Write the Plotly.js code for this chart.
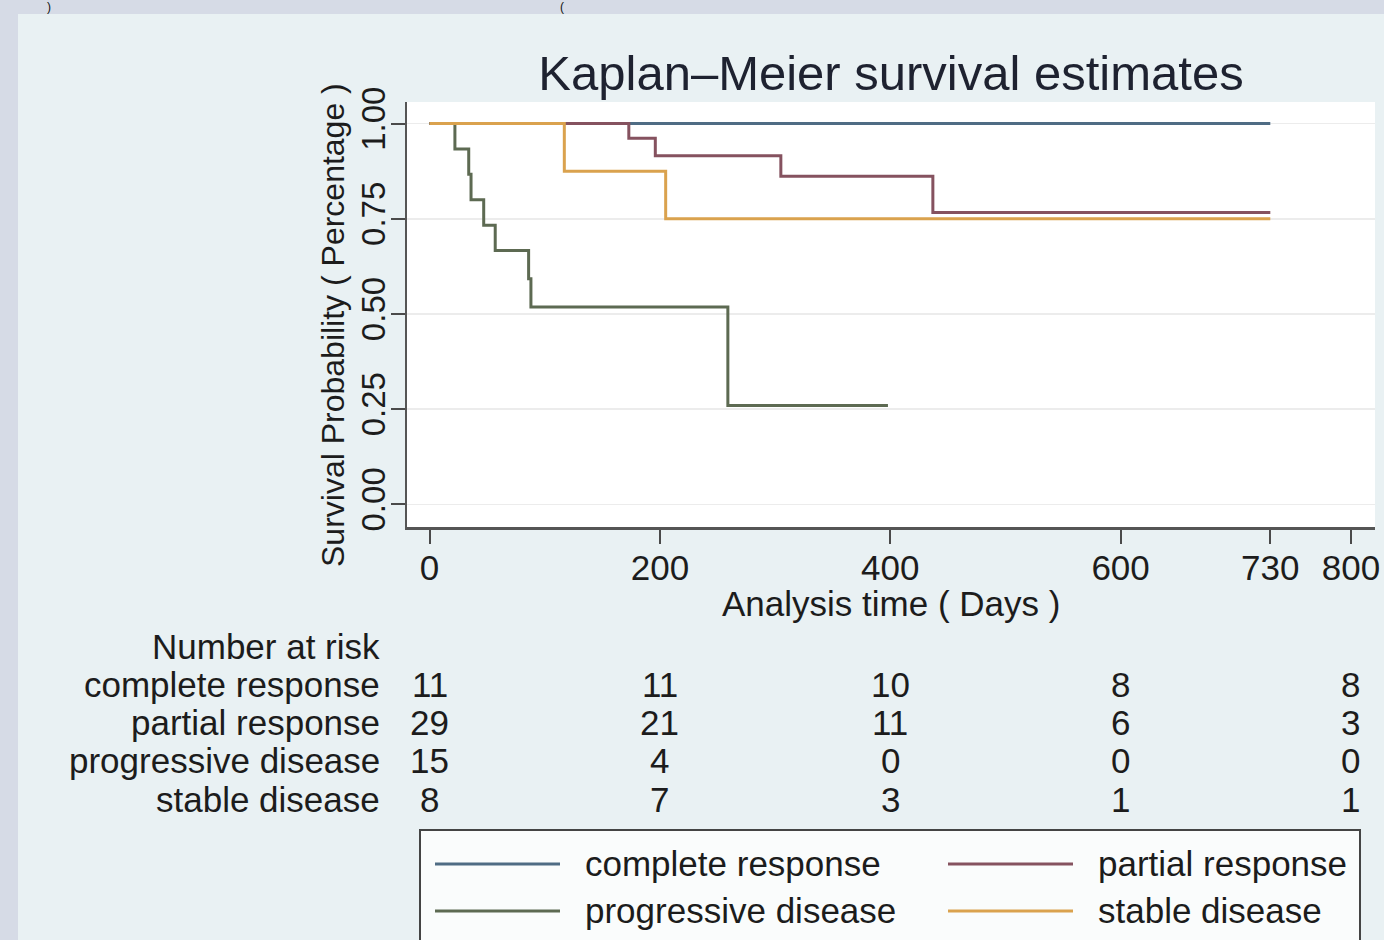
<!DOCTYPE html>
<html>
<head>
<meta charset="utf-8">
<script src="https://cdn.plot.ly/plotly-3.0.1.min.js"></script>
<style>
html,body{margin:0;padding:0;background:#e9f1f3;}
#chart{width:1384px;height:940px;}
</style>
</head>
<body>
<div id="chart"></div>
<script>
// ---------- data ----------
const groups = ["complete response", "partial response", "progressive disease", "stable disease"];

const completeDays = [0, 730];
const completeSurv = [1.0, 1.0];

const partialDays = [0, 173, 196, 305, 437, 730];
const partialSurv = [1.0, 0.9615, 0.9158, 0.8619, 0.7662, 0.7662];

const progressiveDays = [0, 22, 34, 36, 47, 57, 86, 88, 259, 398];
const progressiveSurv = [1.0, 0.9333, 0.8667, 0.8, 0.7333, 0.6667, 0.5926, 0.5185, 0.2593, 0.2593];

const stableDays = [0, 117, 205, 730];
const stableSurv = [1.0, 0.875, 0.75, 0.75];

const xTickVals = [0, 200, 400, 600, 730, 800];
const xTickText = ["0", "200", "400", "600", "730", "800"];
const yTickVals = [0, 0.25, 0.5, 0.75, 1.0];
const yTickText = ["0.00", "0.25", "0.50", "0.75", "1.00"];

const riskTimes = [0, 200, 400, 600, 800];
const riskComplete = [11, 11, 10, 8, 8];
const riskPartial = [29, 21, 11, 6, 3];
const riskProgressive = [15, 4, 0, 0, 0];
const riskStable = [8, 7, 3, 1, 1];

// ---------- styling ----------
const colors = ["#4f6c84", "#85525f", "#5d6a52", "#daa24e"];
const FONT = "Liberation Sans, Arial, Helvetica, sans-serif";
const TXT = "#1c1c1c";

const W = 1384, H = 940;
const L = 407, R = 1375, T = 102, B = 527;
function px2x(px) { return (px - L) / (R - L); }
function py2y(py) { return (B - py) / (B - T); }

const seriesDays = [completeDays, partialDays, progressiveDays, stableDays];
const seriesSurv = [completeSurv, partialSurv, progressiveSurv, stableSurv];

const traces = groups.map((g, i) => ({
  type: "scatter",
  mode: "lines",
  name: g,
  x: seriesDays[i],
  y: seriesSurv[i],
  line: {shape: "hv", color: colors[i], width: 3},
  showlegend: false,
  hoverinfo: "x+y+name"
}));

const annotations = [];
const shapes = [];

// outer strips (cropped figure frame)
shapes.push({type: "rect", xref: "paper", yref: "paper", layer: "below",
  x0: px2x(0), x1: px2x(W), y0: py2y(0), y1: py2y(14),
  fillcolor: "#d6dbe6", line: {width: 0}});
shapes.push({type: "rect", xref: "paper", yref: "paper", layer: "below",
  x0: px2x(0), x1: px2x(18), y0: py2y(0), y1: py2y(H),
  fillcolor: "#d6dbe6", line: {width: 0}});

// text fragments in the top strip
annotations.push({xref: "paper", yref: "paper", x: px2x(49), y: py2y(7), text: ")",
  showarrow: false, font: {family: FONT, size: 12, color: "#111"}, xanchor: "center", yanchor: "middle"});
annotations.push({xref: "paper", yref: "paper", x: px2x(562), y: py2y(7), text: "(",
  showarrow: false, font: {family: FONT, size: 12, color: "#111"}, xanchor: "center", yanchor: "middle"});

// y-axis title
annotations.push({xref: "paper", yref: "paper", x: px2x(333), y: py2y(325),
  text: "Survival Probability ( Percentage )", textangle: -90, showarrow: false,
  font: {family: FONT, size: 32, color: TXT}, xanchor: "center", yanchor: "middle"});

// x-axis title
annotations.push({xref: "paper", yref: "paper", x: px2x(891), y: py2y(603),
  text: "Analysis time ( Days )", showarrow: false,
  font: {family: FONT, size: 35, color: TXT}, xanchor: "center", yanchor: "middle"});

// number at risk table
annotations.push({xref: "paper", yref: "paper", x: px2x(382), y: py2y(646), text: "Number at risk",
  showarrow: false, xanchor: "right", yanchor: "middle", font: {family: FONT, size: 35, color: TXT}});
const riskRows = [riskComplete, riskPartial, riskProgressive, riskStable];
const rowY = [684, 722, 760, 799];
groups.forEach((g, r) => {
  annotations.push({xref: "paper", yref: "paper", x: px2x(382), y: py2y(rowY[r]), text: g,
    showarrow: false, xanchor: "right", yanchor: "middle", font: {family: FONT, size: 35, color: TXT}});
  riskTimes.forEach((t, c) => {
    annotations.push({xref: "x", yref: "paper", x: t, y: py2y(rowY[r]), text: String(riskRows[r][c]),
      showarrow: false, xanchor: "center", yanchor: "middle", font: {family: FONT, size: 35, color: TXT}});
  });
});

// legend box
shapes.push({type: "rect", xref: "paper", yref: "paper", layer: "above",
  x0: px2x(420), x1: px2x(1360), y0: py2y(830), y1: py2y(948),
  fillcolor: "rgba(250,252,252,1)", line: {color: "#444", width: 2}});
const legPos = [[435, 864], [948, 864], [435, 911], [948, 911]];
groups.forEach((g, i) => {
  const [lx, ly] = legPos[i];
  shapes.push({type: "line", xref: "paper", yref: "paper", layer: "above",
    x0: px2x(lx), x1: px2x(lx + 125), y0: py2y(ly), y1: py2y(ly),
    line: {color: colors[i], width: 3}});
  annotations.push({xref: "paper", yref: "paper", x: px2x(lx + 148), y: py2y(ly - 1), text: g,
    showarrow: false, xanchor: "left", yanchor: "middle", font: {family: FONT, size: 35, color: TXT}});
});

const layout = {
  width: W, height: H,
  margin: {l: L, r: W - R, t: T, b: H - B, pad: 0},
  paper_bgcolor: "#e9f1f3",
  plot_bgcolor: "#ffffff",
  showlegend: false,
  title: {text: "Kaplan–Meier survival estimates", xref: "paper", x: 0.5, xanchor: "center",
    yref: "container", y: 1 - 73 / H, yanchor: "middle",
    font: {family: FONT, size: 49, color: "#1e2230"}},
  xaxis: {
    range: [-19.6, 820.9], tickmode: "array", tickvals: xTickVals, ticktext: xTickText,
    ticks: "outside", ticklen: 14, tickwidth: 2, tickcolor: "#4a4a4a",
    showline: true, linecolor: "#555", linewidth: 2.5, showgrid: false, zeroline: false,
    tickfont: {family: FONT, size: 35, color: TXT}, ticklabelstandoff: -6,
    fixedrange: true
  },
  yaxis: {
    range: [-0.0596, 1.0567], tickmode: "array", tickvals: yTickVals, ticktext: yTickText,
    tickangle: -90, ticks: "outside", ticklen: 14, tickwidth: 2, tickcolor: "#4a4a4a",
    showline: true, linecolor: "#555", linewidth: 2.5, showgrid: true, gridcolor: "#ececec", gridwidth: 1.5,
    zeroline: false, tickfont: {family: FONT, size: 33, color: TXT}, ticklabelstandoff: -8,
    fixedrange: true
  },
  shapes: shapes,
  annotations: annotations
};

Plotly.newPlot("chart", traces, layout, {displayModeBar: false, staticPlot: true});
</script>
</body>
</html>
